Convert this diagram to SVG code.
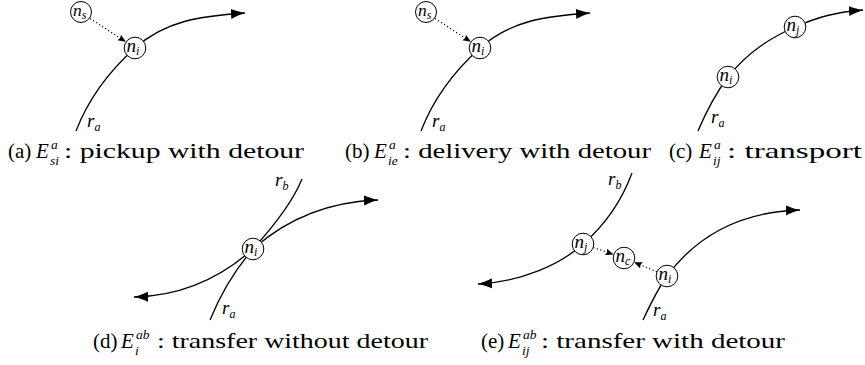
<svg xmlns="http://www.w3.org/2000/svg" width="865" height="365" viewBox="0 0 865 365">
<defs>
<marker id="arr" markerUnits="userSpaceOnUse" markerWidth="16" markerHeight="12" viewBox="0 -6 16 12" refX="14" refY="0" orient="auto">
<path d="M14,0 C10,-1 4,-3 0,-5 L0,5 C4,3 10,1 14,0 z" fill="#000"/>
</marker>
<marker id="sarr" markerUnits="userSpaceOnUse" markerWidth="9" markerHeight="8" viewBox="0 -4 9 8" refX="8" refY="0" orient="auto">
<path d="M8,0 L0,-3.3 L1.2,0 L0,3.3 z" fill="#000"/>
</marker>
<style>
.route{fill:none;stroke:#000;stroke-width:1.3}
.dot{fill:none;stroke:#000;stroke-width:1.2;stroke-dasharray:1.2 2.4}
.node circle{fill:#fff;stroke:#000;stroke-width:1}
.lbl{font-family:"Liberation Serif","Times New Roman",serif;font-style:italic;font-size:19px;fill:#000}
.lbls{font-size:17.5px}
.lsub{font-size:12px}
.cap{font-family:"Liberation Serif","Times New Roman",serif;font-size:21px;fill:#000}
.capi{font-style:italic}
.capss{font-family:"Liberation Serif","Times New Roman",serif;font-size:13.5px;font-style:italic;fill:#000}
</style>
</defs>
<rect width="865" height="365" fill="#fff"/>

<g id="connectors">
<path class="route" d="M76,131 C86,105 105,75 135,48 C165,21 200,16 245,13" marker-end="url(#arr)"/>
<path class="dot" d="M90,18.5 L125.9,41.8" marker-end="url(#sarr)"/>
<path class="route" d="M421,131 C431,105 450,75 480,48 C510,21 545,16 590,13" marker-end="url(#arr)"/>
<path class="dot" d="M435,18.5 L470.9,41.8" marker-end="url(#sarr)"/>
<path class="route" d="M698,131 C706,112 716,93 728,77 C748,52 770,38 795,27 C818,17 836,12 863,10" marker-end="url(#arr)"/>
<path class="route" d="M210,320 C219,298 233,272 253,249 C280,225 320,202 378,200" marker-end="url(#arr)"/>
<path class="route" d="M302,179 C293,201 273,227 253,249 C226,273 186,296 134,297" marker-end="url(#arr)"/>
<path class="route" d="M632,173 C622,200 605,225 583,244 C560,265 520,282 478,284" marker-end="url(#arr)"/>
<path class="route" d="M643,320 C650,305 657,290 667,276 C690,245 730,212 800,210" marker-end="url(#arr)"/>
<path class="dot" d="M593.4,247.6 L613.6,254.4" marker-end="url(#sarr)"/>
<path class="dot" d="M656.9,271.8 L634.1,262.3" marker-end="url(#sarr)"/>
</g>

<g id="a-ns" class="node"><circle cx="81" cy="12" r="10.5"/><text class="lbl lbls" x="73" y="16">n<tspan class="lsub" dy="2.5">s</tspan></text></g>
<g id="a-ni" class="node"><circle cx="135" cy="48" r="10.8"/><text class="lbl" x="126.5" y="52">n<tspan class="lsub" dy="2.5">i</tspan></text></g>
<g id="b-ns" class="node"><circle cx="426" cy="12" r="10.5"/><text class="lbl lbls" x="418" y="16">n<tspan class="lsub" dy="2.5">s</tspan></text></g>
<g id="b-ni" class="node"><circle cx="480" cy="48" r="10.8"/><text class="lbl" x="471.5" y="52">n<tspan class="lsub" dy="2.5">i</tspan></text></g>
<g id="c-ni" class="node"><circle cx="728" cy="77" r="10.8"/><text class="lbl" x="719.5" y="81">n<tspan class="lsub" dy="2.5">i</tspan></text></g>
<g id="c-nj" class="node"><circle cx="795" cy="27" r="10.8"/><text class="lbl" x="786.5" y="31">n<tspan class="lsub" dy="2.5">j</tspan></text></g>
<g id="d-ni" class="node"><circle cx="253" cy="249" r="10.8"/><text class="lbl" x="244.5" y="253">n<tspan class="lsub" dy="2.5">i</tspan></text></g>
<g id="e-nj" class="node"><circle cx="583" cy="244" r="10.8"/><text class="lbl" x="574.5" y="248">n<tspan class="lsub" dy="2.5">j</tspan></text></g>
<g id="e-nc" class="node"><circle cx="624" cy="258" r="10.8"/><text class="lbl" x="615.5" y="262">n<tspan class="lsub" dy="2.5">c</tspan></text></g>
<g id="e-ni" class="node"><circle cx="667" cy="276" r="10.8"/><text class="lbl" x="658.5" y="280">n<tspan class="lsub" dy="2.5">i</tspan></text></g>

<g id="route-labels">
<text class="lbl" x="87" y="127">r<tspan class="lsub" dy="3.5">a</tspan></text>
<text class="lbl" x="432" y="127">r<tspan class="lsub" dy="3.5">a</tspan></text>
<text class="lbl" x="711" y="123">r<tspan class="lsub" dy="3.5">a</tspan></text>
<text class="lbl" x="275" y="186">r<tspan class="lsub" dy="3.5">b</tspan></text>
<text class="lbl" x="222" y="314">r<tspan class="lsub" dy="3.5">a</tspan></text>
<text class="lbl" x="608" y="185">r<tspan class="lsub" dy="3.5">b</tspan></text>
<text class="lbl" x="653" y="316">r<tspan class="lsub" dy="3.5">a</tspan></text>
</g>

<g id="cap-a">
<text class="cap" x="8" y="158">(a)</text>
<text class="cap capi" x="36" y="158">E</text>
<text class="capss" x="51" y="148.5">a</text>
<text class="capss" x="50" y="164.5">si</text>
<text class="cap" x="64" y="158" textLength="240" lengthAdjust="spacingAndGlyphs">: pickup with detour</text>
</g>
<g id="cap-b">
<text class="cap" x="345" y="158">(b)</text>
<text class="cap capi" x="374" y="158">E</text>
<text class="capss" x="389" y="148.5">a</text>
<text class="capss" x="388" y="164.5">ie</text>
<text class="cap" x="403" y="158" textLength="248" lengthAdjust="spacingAndGlyphs">: delivery with detour</text>
</g>
<g id="cap-c">
<text class="cap" x="669" y="158">(c)</text>
<text class="cap capi" x="699" y="158">E</text>
<text class="capss" x="714" y="148.5">a</text>
<text class="capss" x="713" y="164.5">ij</text>
<text class="cap" x="727" y="158" textLength="135" lengthAdjust="spacingAndGlyphs">: transport</text>
</g>
<g id="cap-d">
<text class="cap" x="93" y="348">(d)</text>
<text class="cap capi" x="121" y="348">E</text>
<text class="capss" x="136" y="338.5">ab</text>
<text class="capss" x="135" y="354.5">i</text>
<text class="cap" x="157" y="348" textLength="271" lengthAdjust="spacingAndGlyphs">: transfer without detour</text>
</g>
<g id="cap-e">
<text class="cap" x="481" y="348">(e)</text>
<text class="cap capi" x="508" y="348">E</text>
<text class="capss" x="523" y="338.5">ab</text>
<text class="capss" x="522" y="354.5">ij</text>
<text class="cap" x="541" y="348" textLength="244" lengthAdjust="spacingAndGlyphs">: transfer with detour</text>
</g>
</svg>
